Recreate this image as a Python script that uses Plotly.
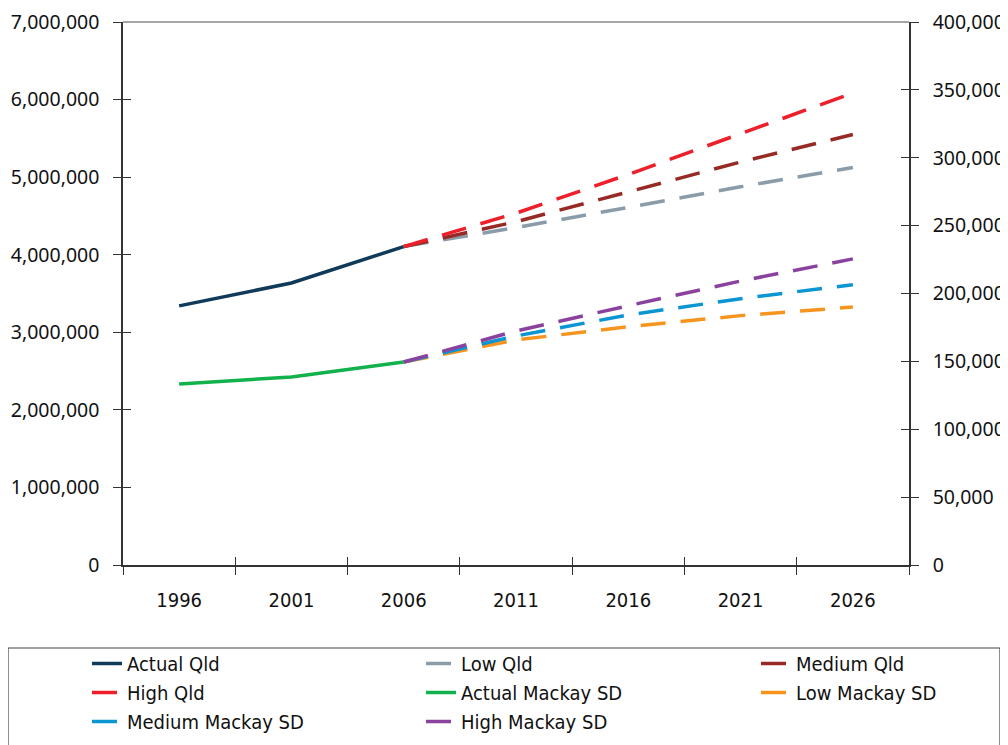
import plotly.graph_objects as go

years = ["1996", "2001", "2006", "2011", "2016", "2021", "2026"]
actual_years = ["1996", "2001", "2006"]
proj_years = ["2006", "2011", "2016", "2021", "2026"]

actual_qld = [3340000, 3635000, 4105000]
low_qld = [4105000, 4350000, 4610000, 4875000, 5125000]
medium_qld = [4105000, 4425000, 4810000, 5195000, 5550000]
high_qld = [4105000, 4535000, 5035000, 5555000, 6085000]

actual_mackay = [133400, 138500, 149500]
low_mackay = [149500, 165800, 175500, 183700, 190000]
medium_mackay = [149500, 168700, 184200, 196200, 206500]
high_mackay = [149500, 172400, 191000, 209200, 225500]

left_ticks = [0, 1000000, 2000000, 3000000, 4000000, 5000000, 6000000, 7000000]
right_ticks = [0, 50000, 100000, 150000, 200000, 250000, 300000, 350000, 400000]

colors = {
    "Actual Qld": "#0f3a5a",
    "Low Qld": "#8a9caa",
    "Medium Qld": "#982a26",
    "High Qld": "#ec1f2a",
    "Actual Mackay SD": "#11b14c",
    "Low Mackay SD": "#f7941e",
    "Medium Mackay SD": "#0b95d3",
    "High Mackay SD": "#8b429e",
}

DASH = "25px,15px"
W = 3.5

# legend column assignment (3 columns, row-major order as in the reference)
legend_of = {
    "Actual Qld": "legend", "Low Qld": "legend2", "Medium Qld": "legend3",
    "High Qld": "legend", "Actual Mackay SD": "legend2", "Low Mackay SD": "legend3",
    "Medium Mackay SD": "legend", "High Mackay SD": "legend2",
}

fig = go.Figure()

series = [
    ("Actual Qld", actual_years, actual_qld, "y", "solid"),
    ("Low Qld", proj_years, low_qld, "y", DASH),
    ("Medium Qld", proj_years, medium_qld, "y", DASH),
    ("High Qld", proj_years, high_qld, "y", DASH),
    ("Actual Mackay SD", actual_years, actual_mackay, "y2", "solid"),
    ("Low Mackay SD", proj_years, low_mackay, "y2", DASH),
    ("Medium Mackay SD", proj_years, medium_mackay, "y2", DASH),
    ("High Mackay SD", proj_years, high_mackay, "y2", DASH),
]

for name, xs, ys, yax, dash in series:
    fig.add_trace(go.Scatter(
        x=xs, y=ys, name=name, mode="lines", yaxis=yax, legend=legend_of[name],
        line=dict(color=colors[name], width=W, dash=dash),
    ))

# helper invisible traces so the overlay tick axes are drawn
fig.add_trace(go.Scatter(x=actual_years, y=actual_qld, xaxis="x2", yaxis="y3",
                         mode="lines", line=dict(width=0, color="rgba(0,0,0,0)"),
                         showlegend=False, hoverinfo="skip"))
fig.add_trace(go.Scatter(x=actual_years, y=actual_mackay, xaxis="x", yaxis="y4",
                         mode="lines", line=dict(width=0, color="rgba(0,0,0,0)"),
                         showlegend=False, hoverinfo="skip"))

tickfont_y = dict(family="Noto Sans, Open Sans, sans-serif", size=19.5, color="#111")
narrow = "Liberation Sans Narrow, Arial Narrow, DejaVu Sans Condensed, sans-serif"

xcommon = dict(type="category", categoryorder="array", categoryarray=years,
               range=[-0.5, 6.5], tickson="boundaries", ticklen=8, tickwidth=1.2,
               tickcolor="#333", showgrid=False, zeroline=False)

FW, FH = 1000, 737          # page body adds an 8px offset
PW, PH, L, T = 786, 543, 115, 14


def px_x(p):
    # reference page pixel -> paper fraction
    return (p - 8 - L) / PW


def px_y(p):
    return (T + PH - (p - 8)) / PH


legend_common = dict(orientation="v", yanchor="top", xanchor="left",
                     font=dict(family=narrow, size=20, color="#111"),
                     bgcolor="rgba(0,0,0,0)", traceorder="normal")

fig.update_layout(
    width=FW, height=FH,
    margin=dict(l=L, r=FW - L - PW, t=T, b=FH - T - PH, autoexpand=False),
    paper_bgcolor="white", plot_bgcolor="white",
    showlegend=True,
    xaxis=dict(**xcommon, ticks="outside", showline=True, linecolor="#333", linewidth=1.5,
               tickfont=dict(family=narrow, size=20, color="#111"), ticklabelstandoff=16,
               anchor="y"),
    xaxis2=dict(**xcommon, ticks="inside", overlaying="x", anchor="y",
                showticklabels=False, showline=False, side="bottom"),
    yaxis=dict(range=[0, 7000000], tickvals=left_ticks, tickformat=",", ticks="outside",
               ticklen=8, tickwidth=1.2, tickcolor="#333", showline=True, linecolor="#333",
               linewidth=1.5, showgrid=False, zeroline=False, tickfont=tickfont_y,
               ticklabelstandoff=10, ticklabeloverflow="allow"),
    yaxis2=dict(range=[0, 400000], tickvals=right_ticks, tickformat=",", ticks="outside",
                ticklen=8, tickwidth=1.2, tickcolor="#333", showline=True, linecolor="#333",
                linewidth=1.5, showgrid=False, zeroline=False, tickfont=tickfont_y,
                overlaying="y", side="right", anchor="x", ticklabelstandoff=10,
                ticklabeloverflow="allow"),
    yaxis3=dict(range=[0, 7000000], tickvals=left_ticks, ticks="inside", ticklen=8,
                tickwidth=1.2, tickcolor="#333", showticklabels=False, showline=False,
                showgrid=False, zeroline=False, overlaying="y", side="left", anchor="x2"),
    yaxis4=dict(range=[0, 400000], tickvals=right_ticks, ticks="inside", ticklen=8,
                tickwidth=1.2, tickcolor="#333", showticklabels=False, showline=False,
                showgrid=False, zeroline=False, overlaying="y", side="right", anchor="x"),
    legend=dict(**legend_common, x=px_x(87), y=px_y(644)),
    legend2=dict(**legend_common, x=px_x(421), y=px_y(644)),
    legend3=dict(**legend_common, x=px_x(756), y=px_y(644)),
    shapes=[
        dict(type="line", xref="paper", yref="paper", x0=0, x1=1, y0=1, y1=1,
             line=dict(color="#888", width=1.5)),
        dict(type="rect", xref="paper", yref="paper",
             x0=px_x(8), x1=px_x(1000), y0=px_y(648), y1=px_y(800),
             line=dict(color="#444", width=1.2), fillcolor="rgba(0,0,0,0)"),
    ],
)

fig.write_html("out.html")
